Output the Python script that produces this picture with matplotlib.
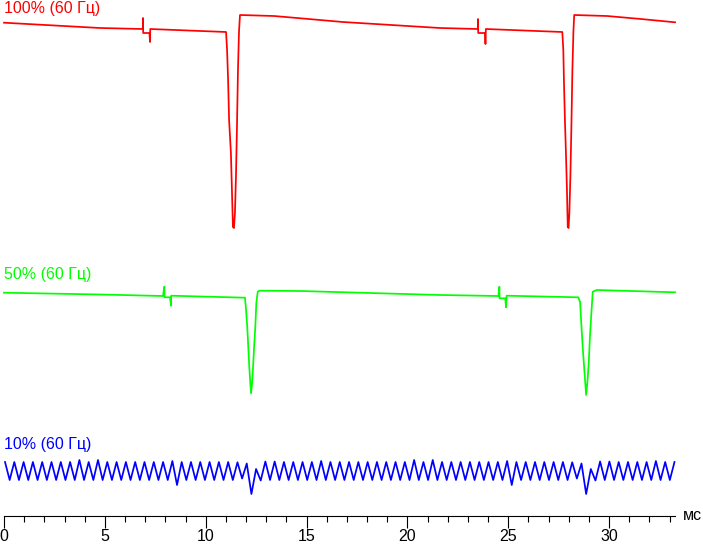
import numpy as np
import matplotlib
matplotlib.use("Agg")
import matplotlib.pyplot as plt
from matplotlib.ticker import MultipleLocator

plt.rcParams['font.family'] = ['Liberation Sans', 'DejaVu Sans']

# brightness traces, time in ms, level in arbitrary units (0 = deepest point)
red_t = [0.0, 4.76, 6.88, 6.89, 6.90, 7.21, 7.24, 7.25, 11.01,
         11.06, 11.11, 11.16, 11.25, 11.30, 11.35, 11.40, 11.45, 11.50, 11.55, 11.60, 11.65, 11.70,
         13.39, 15.10, 16.80, 21.62, 23.49, 23.50, 23.51, 23.85, 23.87, 23.89, 27.68,
         27.73, 27.76, 27.81, 27.86, 27.91, 27.95, 27.99, 28.03, 28.08, 28.13, 28.18, 28.23, 28.27,
         29.90, 31.58, 33.27]
red_v = [205.3, 200, 199, 210, 195, 195, 186, 199, 196,
         178, 148, 108, 75, 38, 1, 0, 15, 51, 101, 158, 196, 213,
         212, 209, 206, 200, 199, 209, 195, 195, 184, 199, 196,
         178, 148, 108, 75, 38, 1, 0, 15, 51, 101, 158, 196, 213,
         212, 209, 205.7]

green_t = [0.0, 4.76, 7.88, 7.95, 7.96, 8.23, 8.28, 8.29, 11.95,
           12.00, 12.06, 12.11, 12.16, 12.21, 12.25, 12.30, 12.35, 12.40, 12.46, 12.51, 12.58, 12.66,
           14.68, 21.62, 24.51, 24.56, 24.57, 24.85, 24.89, 24.92, 28.47,
           28.56, 28.62, 28.69, 28.76, 28.82, 28.86, 28.92, 28.99, 29.05, 29.12, 29.19, 29.39,
           33.27]
green_v = [102.3, 100.5, 99, 108.3, 97.7, 97.7, 89.3, 99.3, 97.3,
           85, 68.3, 48.3, 28.3, 12, 1.7, 12, 28.3, 48.3, 68.3, 92, 103.3, 104.3,
           104, 100, 99, 108.3, 96.7, 96.7, 87.7, 99.3, 97.7,
           93.3, 72, 48.3, 28.3, 11.7, 0, 11.7, 31.7, 58.3, 81.7, 103.3, 105,
           102.7]

# 10%: ripple extremes around the mean level, one every half period
blue_t0 = 0.05
blue_step = 0.2305
blue_peaks = [9, 9, 9, 9, 9, 9, 9, 9, 11, 9, 11, 9, 9, 9, 9, 9, 9, 9, 10, 9,
              9, 9, 9, 9, 9, 8.7, 7.5, 2, 9.5, 9.5, 9, 9, 9, 9, 10, 9,
              9, 9, 9, 9, 9, 9, 9, 9, 11, 9, 11, 9, 9, 9, 9, 9, 9, 9, 10, 9,
              9, 9, 9, 9, 9, 8.7, 7.5, 2, 9.5, 9.5, 9, 9, 9, 9, 10, 9, 9]
blue_troughs = [-9, -9, -9, -9, -9, -9, -9, -9, -9, -9, -9, -9, -9, -9, -9, -9, -9, -9, -14, -9,
                -9, -9, -9, -9, -9, -7.5, -23, -9.5, -9, -9, -9, -9, -9, -9, -9, -9,
                -9, -9, -9, -9, -9, -9, -9, -9, -9, -9, -9, -9, -9, -9, -9, -9, -9, -9, -14, -9,
                -9, -9, -9, -9, -9, -7.5, -23, -9.5, -9, -9, -9, -9, -9, -9, -9, -9]

labels = ['100% (60 Гц)', '50% (60 Гц)', '10% (60 Гц)']
colors = ['#ff0000', '#00ff00', '#0000ff']

blue_v = []
for i in range(len(blue_peaks)):
    blue_v.append(blue_peaks[i])
    if i < len(blue_troughs):
        blue_v.append(blue_troughs[i])
blue_t = blue_t0 + blue_step * np.arange(len(blue_v))

# layout
W, H = 703, 544
px_per_ms = 20.17
x0_px, axis_px = 4, 516
offsets = [288, 121, 45]
label_base_px = [12.7, 279.3, 449.3]

fig = plt.figure(figsize=(W / 100, H / 100), dpi=100)
ax = fig.add_axes([0, 0, 1, 1])
ax.set_xlim(-x0_px / px_per_ms, (W - x0_px) / px_per_ms)
ax.set_ylim(axis_px - H, axis_px)

traces = [(red_t, red_v), (green_t, green_v), (blue_t, blue_v)]
for (t, v), off, c in zip(traces, offsets, colors):
    ax.plot(t, np.array(v) + off, color=c, lw=1.25, solid_joinstyle='round')

for lab, c, yb in zip(labels, colors, label_base_px):
    fig.text(4 / W, 1 - yb / H, lab, color=c, fontsize=11.5, va='baseline', ha='left')

for s in ['top', 'left', 'right']:
    ax.spines[s].set_visible(False)
ax.spines['bottom'].set_position(('data', 0))
ax.spines['bottom'].set_bounds(0, red_t[-1])
ax.spines['bottom'].set_linewidth(0.8)
ax.yaxis.set_visible(False)
ax.xaxis.set_major_locator(MultipleLocator(5))
ax.xaxis.set_minor_locator(MultipleLocator(1))
ax.set_xticks(np.arange(0, 31, 5))
ax.set_xticks(np.arange(0, 34, 1), minor=True)
ax.tick_params(which='major', direction='out', length=8.6, width=0.8, pad=0.8, labelsize=11.5)
ax.tick_params(which='minor', direction='out', length=4.3, width=0.8)
fig.text(683 / W, 1 - 520 / H, 'мс', fontsize=11.5, va='baseline', ha='left')

fig.savefig('out.png', dpi=100)
